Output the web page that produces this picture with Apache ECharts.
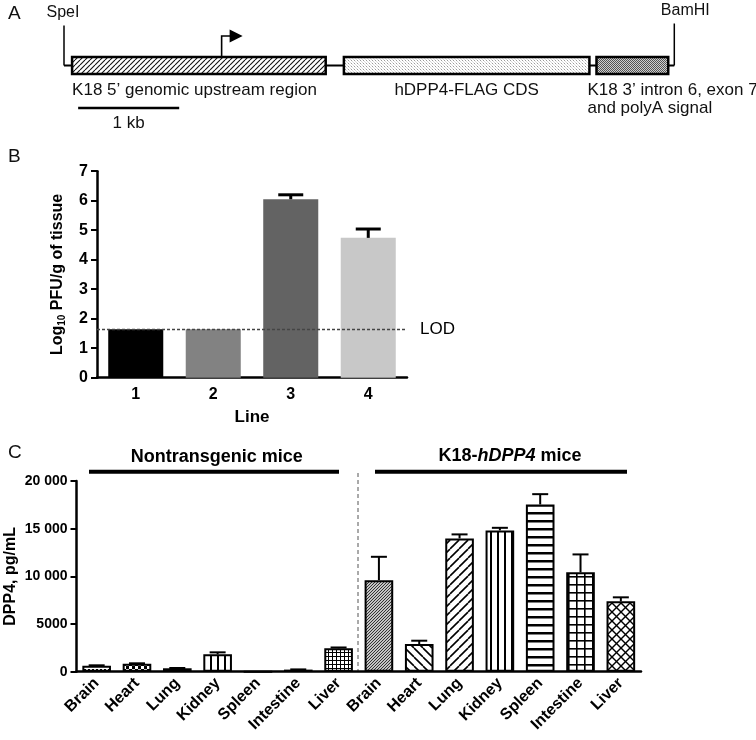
<!DOCTYPE html>
<html>
<head>
<meta charset="utf-8">
<script src="https://cdn.jsdelivr.net/npm/echarts@6/dist/echarts.min.js"></script>
<style>
html,body{margin:0;padding:0;background:#fff;}
#main{width:756px;height:740px;}
</style>
</head>
<body>
<div id="main"></div>
<script>
// ---------- Panel A data (construct map, kb from SpeI site) ----------
const partLabels = ['K18 5\u2019 genomic upstream region', 'hDPP4-FLAG CDS', 'K18 3\u2019 intron 6, exon 7\nand polyA signal'];
const partStartKb = [0.08, 2.77, 5.27];
const partEndKb = [2.59, 5.20, 5.98];
const siteLabels = ['SpeI', 'BamHI'];
const siteKb = [0, 6.04];
const tssKb = [1.56];
const scaleBarKb = [0.14, 1.14];
const scaleBarLabel = '1 kb';

// ---------- Panel B data ----------
const lineCats = ['1', '2', '3', '4'];
const pfuMean = [1.64, 1.64, 6.05, 4.74];
const pfuErr = [0, 0, 0.15, 0.30];
const lodValue = 1.63;

// ---------- Panel C data ----------
const organs = ['Brain', 'Heart', 'Lung', 'Kidney', 'Spleen', 'Intestine', 'Liver'];
const nontgMean = [630, 840, 360, 1820, 0, 220, 2450];
const nontgErr = [40, 40, 30, 210, 0, 20, 90];
const tgMean = [9600, 2900, 13980, 14820, 17540, 10420, 7380];
const tgErr = [2450, 350, 420, 270, 1080, 1880, 420];
const yTicksC = ['0', '5000', '10 000', '15 000', '20 000'];
const groupLabels = ['Nontransgenic mice', 'K18-hDPP4 mice'];

// ---------- patterns ----------
function pat(size, draw) {
  const c = document.createElement('canvas');
  c.width = size; c.height = size;
  const ctx = c.getContext('2d');
  ctx.fillStyle = '#fff'; ctx.fillRect(0, 0, size, size);
  draw(ctx, size);
  return { image: c, repeat: 'repeat' };
}
function slash(ctx, s, lw, col) {
  ctx.strokeStyle = col; ctx.lineWidth = lw;
  for (const k of [-1, 0, 1]) { ctx.beginPath(); ctx.moveTo(k * s, s); ctx.lineTo(k * s + s, 0); ctx.stroke(); }
}
function backslash(ctx, s, lw, col) {
  ctx.strokeStyle = col; ctx.lineWidth = lw;
  for (const k of [-1, 0, 1]) { ctx.beginPath(); ctx.moveTo(k * s, 0); ctx.lineTo(k * s + s, s); ctx.stroke(); }
}
const PAT = {
  hatchA: pat(5, (c, s) => slash(c, s, 1.1, '#111')),
  stippleLight: pat(3, (c, s) => { c.fillStyle = '#9a9a9a'; c.fillRect(0, 0, 1, 1); c.fillStyle = '#d8d8d8'; c.fillRect(1, 1, 1, 1); c.fillRect(2, 2, 1, 1); }),
  stippleDark: pat(2, (c, s) => { c.fillStyle = '#d0d0d0'; c.fillRect(0, 0, 2, 2); c.fillStyle = '#555'; c.fillRect(0, 0, 1, 1); c.fillRect(1, 1, 1, 1); }),
  fineHatch: pat(3, (c, s) => { c.fillStyle = '#c4c4c4'; c.fillRect(0, 0, s, s); slash(c, s, 1, '#333'); }),
  back: pat(9, (c, s) => backslash(c, s, 1.6, '#000')),
  fwd: pat(9, (c, s) => slash(c, s, 1.6, '#000')),
  vert: pat(7, (c, s) => { c.fillStyle = '#000'; c.fillRect(0, 0, 2, s); }),
  horiz: pat(8, (c, s) => { c.fillStyle = '#000'; c.fillRect(0, 0, s, 2.5); }),
  grid: pat(8, (c, s) => { c.fillStyle = '#000'; c.fillRect(0, 0, 1.6, s); c.fillRect(0, 0, s, 1.6); }),
  fineGrid: pat(4, (c, s) => { c.fillStyle = '#000'; c.fillRect(0, 0, 1, s); c.fillRect(0, 0, s, 1); }),
  cross: pat(9, (c, s) => { slash(c, s, 1.4, '#000'); backslash(c, s, 1.4, '#000'); }),
  dots: pat(4, (c, s) => { c.fillStyle = '#000'; c.fillRect(0, 1, 2, 1); }),
  checker: pat(6, (c, s) => { c.fillStyle = '#000'; c.fillRect(0, 0, 3, 3); c.fillRect(3, 3, 3, 3); })
};
const partPatterns = [PAT.hatchA, PAT.stippleLight, PAT.stippleDark];
const barPatternsC = [PAT.dots, PAT.checker, PAT.fineHatch, PAT.vert, PAT.horiz, PAT.grid, PAT.fineGrid,
                      PAT.fineHatch, PAT.back, PAT.fwd, PAT.vert, PAT.horiz, PAT.grid, PAT.cross];
const lineColors = ['#000000', '#828282', '#636363', '#c8c8c8'];

const FONT = '"Liberation Sans", Arial, Helvetica, sans-serif';
const chart = echarts.init(document.getElementById('main'), null, { renderer: 'canvas' });

const axisLineStyle = { color: '#000', width: 2.5 };
const tickStyle = { color: '#000', width: 2 };

function errRender(capHalf, lw) {
  return function (params, api) {
    const x = api.value(0), m = api.value(1), e = api.value(2);
    if (!(e > 0)) return null;
    const p0 = api.coord([x, m]);
    const p1 = api.coord([x, m + e]);
    return {
      type: 'group',
      children: [
        { type: 'line', shape: { x1: p0[0], y1: p0[1], x2: p1[0], y2: p1[1] }, style: { stroke: '#000', lineWidth: lw } },
        { type: 'line', shape: { x1: p1[0] - capHalf, y1: p1[1], x2: p1[0] + capHalf, y2: p1[1] }, style: { stroke: '#000', lineWidth: lw } }
      ]
    };
  };
}

const cMeans = nontgMean.concat(tgMean);
const cErrs = nontgErr.concat(tgErr);

const option = {
  animation: false,
  textStyle: { fontFamily: FONT },
  grid: [
    { left: 64, top: 57, width: 610.3, height: 17, outerBoundsMode: 'none' },
    { left: 97, top: 171.2, width: 310, height: 206.5, outerBoundsMode: 'none' },
    { left: 76.5, top: 481, width: 564.5, height: 190.7, outerBoundsMode: 'none' }
  ],
  xAxis: [
    { gridIndex: 0, type: 'value', min: 0, max: siteKb[1], show: false },
    {
      gridIndex: 1, type: 'category', data: lineCats,
      axisLine: { lineStyle: axisLineStyle },
      axisTick: { alignWithLabel: true, length: 6, lineStyle: tickStyle },
      axisLabel: { color: '#000', fontWeight: 'bold', fontSize: 16, margin: 9, fontFamily: FONT },
      name: 'Line', nameLocation: 'middle', nameGap: 31,
      nameTextStyle: { color: '#000', fontWeight: 'bold', fontSize: 17, fontFamily: FONT }
    },
    {
      gridIndex: 2, type: 'category', data: organs.concat(organs),
      axisLine: { lineStyle: axisLineStyle },
      axisTick: { alignWithLabel: true, length: 6, lineStyle: tickStyle },
      axisLabel: { color: '#000', fontWeight: 'bold', fontSize: 16, margin: 9, rotate: 45, interval: 0, fontFamily: FONT }
    }
  ],
  yAxis: [
    { gridIndex: 0, type: 'value', min: 0, max: 1, show: false },
    {
      gridIndex: 1, type: 'value', min: 0, max: 7, interval: 1,
      axisLine: { show: true, lineStyle: axisLineStyle },
      axisTick: { show: true, length: 6, lineStyle: tickStyle },
      splitLine: { show: false },
      axisLabel: { color: '#000', fontWeight: 'bold', fontSize: 16, margin: 9, fontFamily: FONT },
      name: '{n|Log}{s|10}{n| PFU/g of tissue}', nameLocation: 'middle', nameRotate: 90, nameGap: 30,
      nameTextStyle: {
        color: '#000',
        rich: {
          n: { fontSize: 16, fontWeight: 'bold', color: '#000', fontFamily: FONT, lineHeight: 18 },
          s: { fontSize: 10, fontWeight: 'bold', color: '#000', fontFamily: FONT, verticalAlign: 'bottom', lineHeight: 18, padding: [6, 0, 0, 0] }
        }
      }
    },
    {
      gridIndex: 2, type: 'value', min: 0, max: 20000, interval: 5000,
      axisLine: { show: true, lineStyle: axisLineStyle },
      axisTick: { show: true, length: 6, lineStyle: tickStyle },
      splitLine: { show: false },
      axisLabel: { color: '#000', fontWeight: 'bold', fontSize: 14, margin: 9, fontFamily: FONT,
        formatter: v => yTicksC[Math.round(v / 5000)] },
      name: 'DPP4, pg/mL', nameLocation: 'middle', nameRotate: 90, nameGap: 58, nameMoveOverlap: false,
      nameTextStyle: { color: '#000', fontWeight: 'bold', fontSize: 16, fontFamily: FONT }
    }
  ],
  series: [
    // backbone
    {
      type: 'custom', xAxisIndex: 0, yAxisIndex: 0, z: 1, silent: true,
      data: [[siteKb[0], siteKb[1]]],
      renderItem: (params, api) => {
        const p0 = api.coord([api.value(0), 0.5]);
        const p1 = api.coord([api.value(1), 0.5]);
        return { type: 'line', shape: { x1: p0[0], y1: p0[1], x2: p1[0], y2: p1[1] }, style: { stroke: '#000', lineWidth: 2 } };
      }
    },
    // construct parts
    {
      type: 'custom', xAxisIndex: 0, yAxisIndex: 0, z: 3, silent: true,
      data: partStartKb.map((s, i) => [s, partEndKb[i], i]),
      renderItem: (params, api) => {
        const i = params.dataIndex;
        const p0 = api.coord([api.value(0), 1]);
        const p1 = api.coord([api.value(1), 0]);
        let tx, align;
        if (i === 0) { tx = p0[0]; align = 'left'; }
        else if (i === 1) { tx = (p0[0] + p1[0]) / 2; align = 'center'; }
        else { tx = p0[0] - 9; align = 'left'; }
        return {
          type: 'group',
          children: [
            { type: 'rect', shape: { x: p0[0], y: p0[1], width: p1[0] - p0[0], height: p1[1] - p0[1] },
              style: { fill: partPatterns[i], stroke: '#000', lineWidth: 2.5 } },
            { type: 'text', x: tx, y: p1[1] + 7,
              style: { text: partLabels[i], fontSize: 17, fontFamily: FONT, fill: '#111', align: align, verticalAlign: 'top', lineHeight: 18 } }
          ]
        };
      }
    },
    // restriction sites
    {
      type: 'custom', xAxisIndex: 0, yAxisIndex: 0, z: 2, silent: true,
      data: siteKb.map((k, i) => [k, i]),
      renderItem: (params, api) => {
        const i = params.dataIndex;
        const p = api.coord([api.value(0), 0.5]);
        const top = p[1] - (i === 0 ? 40 : 42);
        return {
          type: 'group',
          children: [
            { type: 'line', shape: { x1: p[0], y1: p[1], x2: p[0], y2: top }, style: { stroke: '#000', lineWidth: 1.5 } },
            { type: 'text', x: p[0] + (i === 0 ? -1 : 11), y: top - 5,
              style: { text: siteLabels[i], fontSize: 16, fontFamily: FONT, fill: '#111', align: 'center', verticalAlign: 'bottom' } }
          ]
        };
      }
    },
    // transcription start arrow
    {
      type: 'custom', xAxisIndex: 0, yAxisIndex: 0, z: 2, silent: true,
      data: tssKb.map(k => [k]),
      renderItem: (params, api) => {
        const p = api.coord([api.value(0), 1]);
        const yh = p[1] - 21;
        return {
          type: 'group',
          children: [
            { type: 'polyline', shape: { points: [[p[0], p[1]], [p[0], yh], [p[0] + 10, yh]] }, style: { stroke: '#000', lineWidth: 1.6, fill: null } },
            { type: 'polygon', shape: { points: [[p[0] + 8, yh - 6.5], [p[0] + 8, yh + 6.5], [p[0] + 21, yh]] }, style: { fill: '#000' } }
          ]
        };
      }
    },
    // scale bar
    {
      type: 'custom', xAxisIndex: 0, yAxisIndex: 0, z: 2, silent: true,
      data: [[scaleBarKb[0], scaleBarKb[1]]],
      renderItem: (params, api) => {
        const p0 = api.coord([api.value(0), 0]);
        const p1 = api.coord([api.value(1), 0]);
        const y = p0[1] + 34;
        return {
          type: 'group',
          children: [
            { type: 'line', shape: { x1: p0[0], y1: y, x2: p1[0], y2: y }, style: { stroke: '#000', lineWidth: 2.5 } },
            { type: 'text', x: (p0[0] + p1[0]) / 2, y: y + 15,
              style: { text: scaleBarLabel, fontSize: 17, fontFamily: FONT, fill: '#111', align: 'center', verticalAlign: 'middle' } }
          ]
        };
      }
    },
    // Panel B bars
    {
      type: 'bar', xAxisIndex: 1, yAxisIndex: 1, barWidth: '71%', z: 2,
      data: pfuMean.map((v, i) => ({ value: v, itemStyle: { color: lineColors[i] } })),
      markLine: {
        silent: true, symbol: ['none', 'none'],
        lineStyle: { type: [3, 2], color: '#444', width: 1.3 },
        label: { position: 'end', formatter: 'LOD', fontSize: 17, color: '#000', distance: 13, fontFamily: FONT },
        data: [{ yAxis: lodValue }]
      }
    },
    {
      type: 'custom', xAxisIndex: 1, yAxisIndex: 1, z: 4, silent: true,
      encode: { x: 0, y: 1 },
      data: pfuMean.map((m, i) => [i, m, pfuErr[i]]),
      renderItem: errRender(12.5, 3)
    },
    // Panel C bars
    {
      type: 'bar', xAxisIndex: 2, yAxisIndex: 2, barWidth: '71%', z: 2,
      data: cMeans.map((v, i) => ({ value: v, itemStyle: { color: barPatternsC[i], borderColor: '#000', borderWidth: 2 } }))
    },
    {
      type: 'custom', xAxisIndex: 2, yAxisIndex: 2, z: 4, silent: true,
      encode: { x: 0, y: 1 },
      data: cMeans.map((m, i) => [i, m, cErrs[i]]),
      renderItem: errRender(8, 2)
    }
  ],
  graphic: [
    { type: 'text', left: 8, top: 4, style: { text: 'A', fontSize: 19, fontFamily: FONT, fill: '#111' } },
    { type: 'text', left: 8, top: 147, style: { text: 'B', fontSize: 19, fontFamily: FONT, fill: '#111' } },
    { type: 'text', left: 8, top: 443, style: { text: 'C', fontSize: 19, fontFamily: FONT, fill: '#111' } },
    { type: 'text', x: 216.7, y: 457, style: { text: groupLabels[0], fontSize: 18, fontWeight: 'bold', fontFamily: FONT, fill: '#000', align: 'center', verticalAlign: 'middle' } },
    { type: 'line', shape: { x1: 89, y1: 471.7, x2: 339, y2: 471.7 }, style: { stroke: '#000', lineWidth: 4 } },
    { type: 'text', x: 510, y: 456,
      style: { text: '{b|K18-}{i|hDPP4}{b| mice}', align: 'center', verticalAlign: 'middle',
        rich: { b: { fontSize: 18, fontWeight: 'bold', fontFamily: FONT, fill: '#000' },
                i: { fontSize: 18, fontWeight: 'bold', fontStyle: 'italic', fontFamily: FONT, fill: '#000' } } } },
    { type: 'line', shape: { x1: 375, y1: 471.7, x2: 627, y2: 471.7 }, style: { stroke: '#000', lineWidth: 4 } },
    { type: 'line', shape: { x1: 358, y1: 473, x2: 358, y2: 671 }, style: { stroke: '#555', lineWidth: 1, lineDash: [4, 3] } }
  ]
};
chart.setOption(option);
</script>
</body>
</html>
